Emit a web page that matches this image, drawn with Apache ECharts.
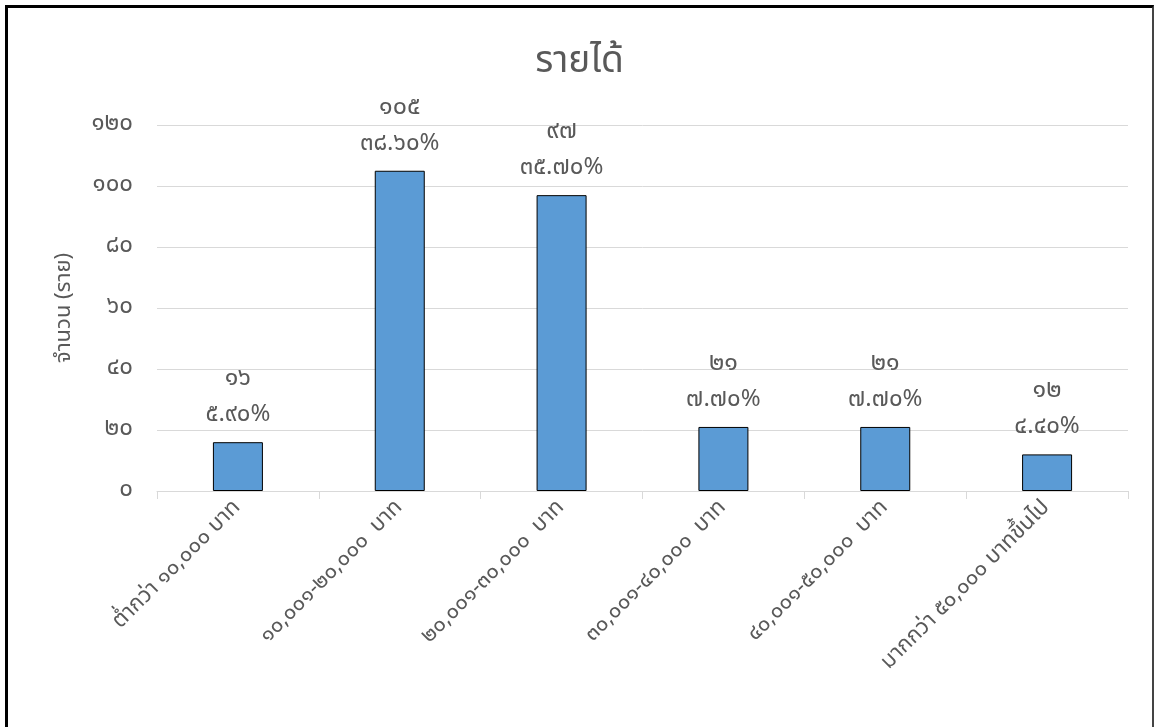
<!DOCTYPE html>
<html>
<head>
<meta charset="utf-8">
<script src="https://cdn.jsdelivr.net/npm/echarts@6/dist/echarts.min.js"></script>
<style>
  html, body { margin: 0; padding: 0; background: #fff; }
  #frame {
    position: absolute; left: 5px; top: 5px; width: 1149px; height: 730px;
    border-left: 3px solid #000; border-top: 3px solid #000; border-right: 2px solid #444;
    box-sizing: border-box;
  }
  #chart { position: absolute; left: 0; top: 0; width: 1159px; height: 727px; }
</style>
</head>
<body>
<div id="chart"></div>
<div id="frame"></div>
<script>
// Income brackets (Thai numerals) and respondent counts
const categories = [
  'ต่ำกว่า ๑๐,๐๐๐ บาท',
  '๑๐,๐๐๑-๒๐,๐๐๐  บาท',
  '๒๐,๐๐๑-๓๐,๐๐๐  บาท',
  '๓๐,๐๐๑-๔๐,๐๐๐  บาท',
  '๔๐,๐๐๑-๕๐,๐๐๐  บาท',
  'มากกว่า ๕๐,๐๐๐ บาทขึ้นไป'
];
const counts = [16, 105, 97, 21, 21, 12];
const countLabels = ['๑๖', '๑๐๕', '๙๗', '๒๑', '๒๑', '๑๒'];
const percentLabels = ['๕.๙๐%', '๓๘.๖๐%', '๓๕.๗๐%', '๗.๗๐%', '๗.๗๐%', '๔.๔๐%'];
const yTickLabels = { 0: '๐', 20: '๒๐', 40: '๔๐', 60: '๖๐', 80: '๘๐', 100: '๑๐๐', 120: '๑๒๐' };

const font = 'Tahoma, "Noto Sans Thai", "Noto Sans", sans-serif';
const grey = '#595959';

const chart = echarts.init(document.getElementById('chart'), null, { renderer: 'canvas' });
chart.setOption({
  animation: false,
  backgroundColor: '#fff',
  title: {
    text: 'รายได้',
    left: 'center',
    top: 41,
    textStyle: { fontFamily: font, fontSize: 37, fontWeight: 'normal', color: grey }
  },
  grid: { left: 157, right: 31, top: 125, bottom: 236, containLabel: false },
  xAxis: {
    type: 'category',
    data: categories,
    axisLine: { lineStyle: { color: '#d9d9d9', width: 1 } },
    axisTick: { show: true, length: 8, lineStyle: { color: '#d9d9d9' } },
    axisLabel: {
      rotate: 45,
      interval: 0,
      margin: 14,
      fontFamily: font,
      fontSize: 22,
      color: grey
    }
  },
  yAxis: {
    type: 'value',
    min: 0,
    max: 120,
    interval: 20,
    name: 'จำนวน (ราย)',
    nameLocation: 'middle',
    nameGap: 80,
    nameTextStyle: { fontFamily: font, fontSize: 22, color: grey },
    axisLine: { show: false },
    axisTick: { show: false },
    axisLabel: {
      margin: 24,
      fontFamily: font,
      fontSize: 24,
      color: grey,
      formatter: v => yTickLabels[v]
    },
    splitLine: { lineStyle: { color: '#d9d9d9', width: 1 } }
  },
  series: [{
    type: 'bar',
    data: counts,
    barWidth: 50,
    itemStyle: { color: '#5B9BD5', borderColor: '#000', borderWidth: 1 },
    label: {
      show: true,
      position: 'top',
      distance: 8,
      formatter: p => '{a|' + countLabels[p.dataIndex] + '}\n{b|' + percentLabels[p.dataIndex] + '}',
      rich: {
        a: { fontFamily: font, fontSize: 25, color: grey, lineHeight: 36, align: 'center' },
        b: { fontFamily: font, fontSize: 24, color: grey, lineHeight: 36, align: 'center' }
      }
    }
  }]
});
</script>
</body>
</html>
